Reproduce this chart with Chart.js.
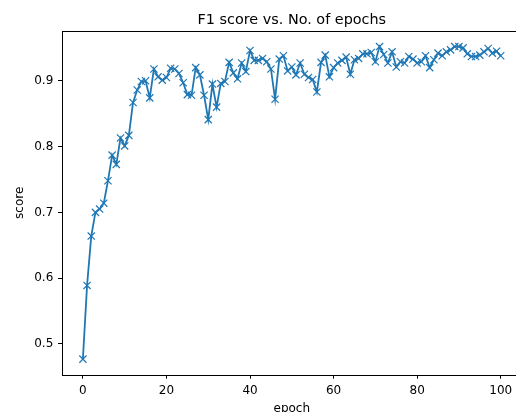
<!DOCTYPE html>
<html>
<head>
<meta charset="utf-8">
<script src="https://cdn.jsdelivr.net/npm/chart.js@4"></script>
<style>
  html, body { margin: 0; padding: 0; background: #fff; overflow: hidden; width: 516px; height: 412px; }
  canvas { display: block; }
</style>
</head>
<body>
<canvas id="graficoF1" width="530" height="420"></canvas>
<script>
// ===== DADOS =====
const epocas = [
  0, 1, 2, 3, 4, 5, 6, 7, 8, 9, 10, 11, 12, 13, 14, 15, 16, 17, 18, 19,
  20, 21, 22, 23, 24, 25, 26, 27, 28, 29, 30, 31, 32, 33, 34, 35, 36, 37, 38, 39,
  40, 41, 42, 43, 44, 45, 46, 47, 48, 49, 50, 51, 52, 53, 54, 55, 56, 57, 58, 59,
  60, 61, 62, 63, 64, 65, 66, 67, 68, 69, 70, 71, 72, 73, 74, 75, 76, 77, 78, 79,
  80, 81, 82, 83, 84, 85, 86, 87, 88, 89, 90, 91, 92, 93, 94, 95, 96, 97, 98, 99, 100
];
const f1 = [
  0.477, 0.589, 0.664, 0.700, 0.705, 0.714, 0.748, 0.787, 0.773, 0.813,
  0.801, 0.817, 0.867, 0.886, 0.899, 0.900, 0.874, 0.918, 0.906, 0.901,
  0.905, 0.919, 0.918, 0.911, 0.897, 0.879, 0.878, 0.920, 0.909, 0.878,
  0.841, 0.895, 0.860, 0.896, 0.899, 0.928, 0.912, 0.903, 0.927, 0.914,
  0.946, 0.931, 0.931, 0.934, 0.929, 0.918, 0.872, 0.933, 0.938, 0.915,
  0.921, 0.909, 0.927, 0.910, 0.905, 0.902, 0.883, 0.928, 0.939, 0.906,
  0.920, 0.927, 0.931, 0.936, 0.910, 0.932, 0.934, 0.941, 0.941, 0.943,
  0.929, 0.952, 0.940, 0.927, 0.944, 0.921, 0.929, 0.927, 0.937, 0.933,
  0.927, 0.929, 0.938, 0.920, 0.932, 0.942, 0.938, 0.944, 0.947, 0.952,
  0.952, 0.950, 0.941, 0.937, 0.937, 0.939, 0.944, 0.949, 0.942, 0.945, 0.938
];
const ticksX = [0, 20, 40, 60, 80, 100];
const ticksY = [0.5, 0.6, 0.7, 0.8, 0.9];

const fonte = "'DejaVu Sans', sans-serif";

// ===== MOLDURA DOS EIXOS =====
const moldura = {
  id: 'moldura',
  afterDatasetsDraw(chart) {
    const { ctx, chartArea: a } = chart;
    ctx.save();
    ctx.strokeStyle = '#000';
    ctx.lineWidth = 1;
    ctx.strokeRect(Math.round(a.left) + 0.5, Math.round(a.top) + 0.5,
      Math.round(a.right - a.left), Math.round(a.bottom - a.top));
    ctx.restore();
  }
};

// ===== GRÁFICO =====
new Chart(document.getElementById('graficoF1').getContext('2d'), {
  type: 'line',
  data: {
    datasets: [{
      data: epocas.map((e, i) => ({ x: e, y: f1[i] })),
      borderColor: '#1f77b4',
      backgroundColor: '#1f77b4',
      borderWidth: 1.8,
      pointStyle: 'crossRot',
      pointRadius: 5.1,
      pointBorderWidth: 1.2,
      pointBorderColor: '#1f77b4',
      tension: 0,
      fill: false
    }]
  },
  options: {
    responsive: false,
    devicePixelRatio: 1,
    animation: false,
    layout: { padding: { left: 0, right: 8.4, top: 0, bottom: 0 } },
    plugins: {
      legend: { display: false },
      tooltip: { enabled: false },
      title: {
        display: true,
        text: 'F1 score vs. No. of epochs',
        fullSize: false,
        color: '#000',
        font: { family: fonte, size: 14.4, weight: 'normal' },
        padding: { top: 11.4, bottom: 2.3 }
      }
    },
    scales: {
      x: {
        type: 'linear',
        min: -5,
        max: 105,
        afterFit(s) { s.height = 45.3; },
        afterBuildTicks(s) { s.ticks = ticksX.map(v => ({ value: v })); },
        grid: { drawOnChartArea: false, drawTicks: true, tickLength: 4, tickWidth: 1, tickColor: '#000' },
        border: { display: false },
        ticks: {
          color: '#000',
          font: { family: fonte, size: 12 },
          padding: 4.5,
          maxRotation: 0,
          callback: v => String(v)
        },
        title: {
          display: true,
          text: 'epoch',
          color: '#000',
          font: { family: fonte, size: 12 },
          padding: { top: 0, bottom: 3.8 }
        }
      },
      y: {
        type: 'linear',
        min: 0.4533,
        max: 0.9757,
        afterFit(s) { s.width = 62; },
        afterBuildTicks(s) { s.ticks = ticksY.map(v => ({ value: v })); },
        grid: { drawOnChartArea: false, drawTicks: true, tickLength: 4, tickWidth: 1, tickColor: '#000' },
        border: { display: false },
        ticks: {
          color: '#000',
          font: { family: fonte, size: 12 },
          padding: 4.7,
          callback: v => v.toFixed(1)
        },
        title: {
          display: true,
          text: 'score',
          color: '#000',
          font: { family: fonte, size: 12 },
          padding: { top: 12.8, bottom: 0 }
        }
      }
    }
  },
  plugins: [moldura]
});
</script>
</body>
</html>
